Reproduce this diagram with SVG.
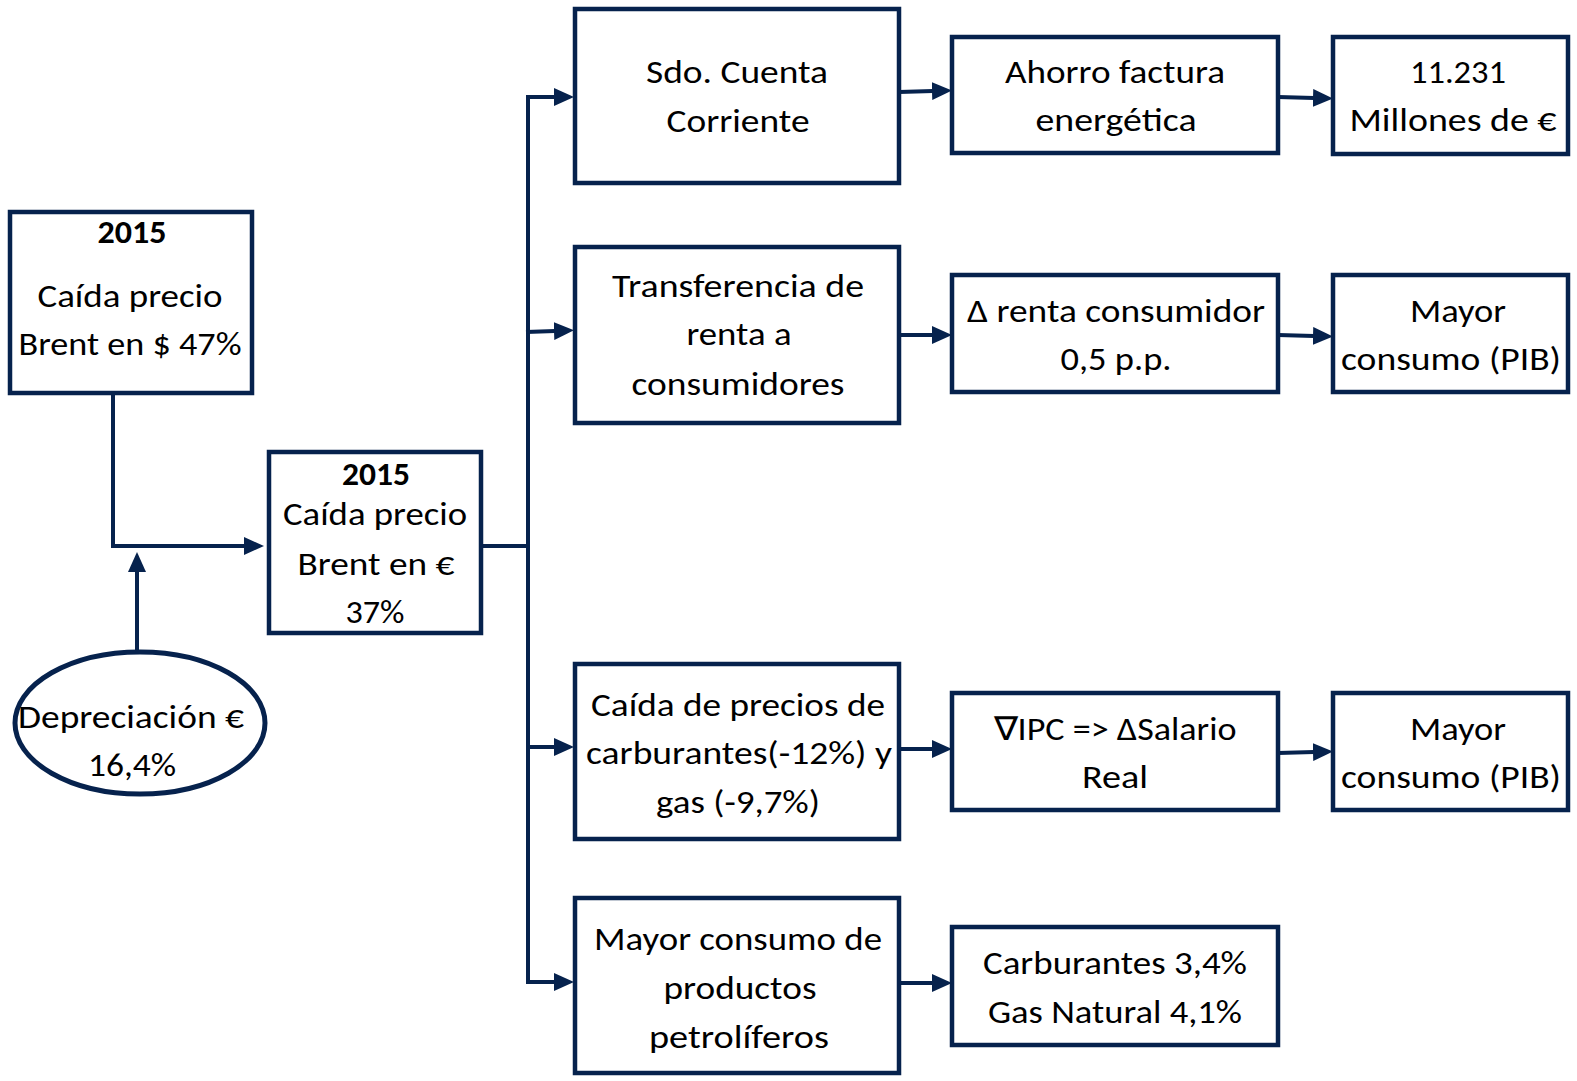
<svg xmlns="http://www.w3.org/2000/svg" width="1577" height="1081" viewBox="0 0 1577 1081">
<style>
.box{fill:#ffffff;stroke:#06224d;stroke-width:4.5}
.ell{fill:#ffffff;stroke:#06224d;stroke-width:5}
.t{font-family:Carlito,Lato,"Liberation Sans",sans-serif;font-size:33px;fill:#000000;text-anchor:middle}
.b{font-weight:bold}
.c{fill:none;stroke:#06224d;stroke-width:4}
</style>
<defs>
<marker id="ah" viewBox="0 0 20 18" refX="1" refY="9" markerWidth="20" markerHeight="18" markerUnits="userSpaceOnUse" orient="auto">
<path d="M0,0 L20,9 L0,18 z" fill="#06224d"/>
</marker>
</defs>
<rect width="1577" height="1081" fill="#ffffff"/>
<g id="connectors">
<polyline class="c" points="113,393 113,546 245,546" marker-end="url(#ah)"/>
<line class="c" x1="137" y1="652" x2="137" y2="571" marker-end="url(#ah)"/>
<polyline class="c" points="482,546 528,546"/>
<line class="c" x1="528" y1="95" x2="528" y2="984"/>
<line class="c" x1="526" y1="97" x2="555" y2="97" marker-end="url(#ah)"/>
<line class="c" x1="526" y1="332" x2="555" y2="331" marker-end="url(#ah)"/>
<line class="c" x1="526" y1="747" x2="555" y2="747" marker-end="url(#ah)"/>
<line class="c" x1="526" y1="982" x2="555" y2="982" marker-end="url(#ah)"/>
<line class="c" x1="899" y1="92" x2="933" y2="91" marker-end="url(#ah)"/>
<line class="c" x1="1278" y1="97" x2="1314" y2="98" marker-end="url(#ah)"/>
<line class="c" x1="899" y1="335" x2="933" y2="335" marker-end="url(#ah)"/>
<line class="c" x1="1278" y1="335" x2="1314" y2="336" marker-end="url(#ah)"/>
<line class="c" x1="899" y1="749" x2="933" y2="749" marker-end="url(#ah)"/>
<line class="c" x1="1278" y1="753" x2="1314" y2="752" marker-end="url(#ah)"/>
<line class="c" x1="899" y1="983" x2="933" y2="983" marker-end="url(#ah)"/>
</g>
<g id="n-brent-usd">
<rect class="box" x="10" y="212" width="242" height="181"/>
<text class="t b" x="132" y="243" textLength="69" lengthAdjust="spacingAndGlyphs">2015</text>
<text class="t" x="130" y="307" textLength="185" lengthAdjust="spacingAndGlyphs">Caída precio</text>
<text class="t" x="130" y="355" textLength="223" lengthAdjust="spacingAndGlyphs">Brent en $ 47%</text>
</g>
<g id="n-brent-eur">
<rect class="box" x="269" y="452" width="212" height="181"/>
<text class="t b" x="376" y="485" textLength="68" lengthAdjust="spacingAndGlyphs">2015</text>
<text class="t" x="375" y="525" textLength="184" lengthAdjust="spacingAndGlyphs">Caída precio</text>
<text class="t" x="376" y="575" textLength="157" lengthAdjust="spacingAndGlyphs">Brent en €</text>
<text class="t" x="375" y="623" textLength="59" lengthAdjust="spacingAndGlyphs">37%</text>
</g>
<g id="n-depreciacion">
<ellipse class="ell" cx="140" cy="723" rx="125" ry="71"/>
<text class="t" x="131" y="728" textLength="226" lengthAdjust="spacingAndGlyphs">Depreciación €</text>
<text class="t" x="132" y="776" textLength="88" lengthAdjust="spacingAndGlyphs">16,4%</text>
</g>
<g id="n-sdo">
<rect class="box" x="575" y="9" width="324" height="174"/>
<text class="t" x="737" y="83" textLength="182" lengthAdjust="spacingAndGlyphs">Sdo. Cuenta</text>
<text class="t" x="738" y="132" textLength="143" lengthAdjust="spacingAndGlyphs">Corriente</text>
</g>
<g id="n-transferencia">
<rect class="box" x="575" y="247" width="324" height="176"/>
<text class="t" x="738" y="297" textLength="252" lengthAdjust="spacingAndGlyphs">Transferencia de</text>
<text class="t" x="739" y="345" textLength="105" lengthAdjust="spacingAndGlyphs">renta a</text>
<text class="t" x="738" y="395" textLength="213" lengthAdjust="spacingAndGlyphs">consumidores</text>
</g>
<g id="n-caida-carb">
<rect class="box" x="575" y="664" width="324" height="175"/>
<text class="t" x="738" y="716" textLength="294" lengthAdjust="spacingAndGlyphs">Caída de precios de</text>
<text class="t" x="739" y="764" textLength="306" lengthAdjust="spacingAndGlyphs">carburantes(-12%) y</text>
<text class="t" x="738" y="813" textLength="164" lengthAdjust="spacingAndGlyphs">gas (-9,7%)</text>
</g>
<g id="n-mayor-petro">
<rect class="box" x="575" y="898" width="324" height="175"/>
<text class="t" x="738" y="950" textLength="288" lengthAdjust="spacingAndGlyphs">Mayor consumo de</text>
<text class="t" x="740" y="999" textLength="153" lengthAdjust="spacingAndGlyphs">productos</text>
<text class="t" x="739" y="1048" textLength="180" lengthAdjust="spacingAndGlyphs">petrolíferos</text>
</g>
<g id="n-ahorro">
<rect class="box" x="952" y="37" width="326" height="116"/>
<text class="t" x="1115" y="83" textLength="220" lengthAdjust="spacingAndGlyphs">Ahorro factura</text>
<text class="t" x="1116" y="131" textLength="161" lengthAdjust="spacingAndGlyphs">energética</text>
</g>
<g id="n-millones">
<rect class="box" x="1333" y="37" width="235" height="117"/>
<text class="t" x="1458" y="83" textLength="96" lengthAdjust="spacingAndGlyphs">11.231</text>
<text class="t" x="1453" y="131" textLength="207" lengthAdjust="spacingAndGlyphs">Millones de €</text>
</g>
<g id="n-renta">
<rect class="box" x="952" y="275" width="326" height="117"/>
<text class="t" x="1116" y="322" textLength="298" lengthAdjust="spacingAndGlyphs">Δ renta consumidor</text>
<text class="t" x="1116" y="370" textLength="111" lengthAdjust="spacingAndGlyphs">0,5 p.p.</text>
</g>
<g id="n-mayor-pib1">
<rect class="box" x="1333" y="275" width="235" height="117"/>
<text class="t" x="1458" y="322" textLength="96" lengthAdjust="spacingAndGlyphs">Mayor</text>
<text class="t" x="1451" y="370" textLength="220" lengthAdjust="spacingAndGlyphs">consumo (PIB)</text>
</g>
<g id="n-ipc">
<rect class="box" x="952" y="693" width="326" height="117"/>
<text class="t" x="1115" y="740" textLength="243" lengthAdjust="spacingAndGlyphs">∇IPC =&gt; ΔSalario</text>
<text class="t" x="1115" y="788" textLength="66" lengthAdjust="spacingAndGlyphs">Real</text>
</g>
<g id="n-mayor-pib2">
<rect class="box" x="1333" y="693" width="235" height="117"/>
<text class="t" x="1458" y="740" textLength="96" lengthAdjust="spacingAndGlyphs">Mayor</text>
<text class="t" x="1451" y="788" textLength="220" lengthAdjust="spacingAndGlyphs">consumo (PIB)</text>
</g>
<g id="n-carburantes">
<rect class="box" x="952" y="927" width="326" height="118"/>
<text class="t" x="1115" y="974" textLength="264" lengthAdjust="spacingAndGlyphs">Carburantes 3,4%</text>
<text class="t" x="1115" y="1023" textLength="254" lengthAdjust="spacingAndGlyphs">Gas Natural 4,1%</text>
</g>
</svg>
